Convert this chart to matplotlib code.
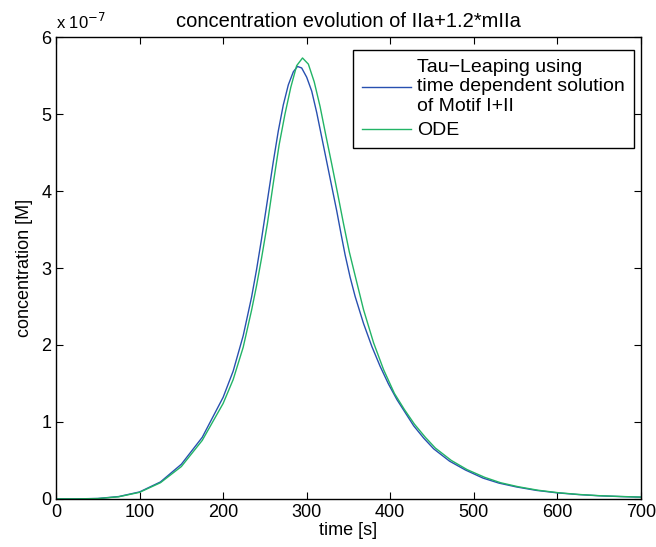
import numpy as np
import matplotlib.pyplot as plt
from matplotlib.ticker import FuncFormatter

plt.rcParams['font.family'] = ['Liberation Sans', 'DejaVu Sans']
plt.rcParams['font.size'] = 12

# values, concentration in units of 1e-7 M
scale = 1e-7
t_tau = [0, 25, 50, 75, 100, 125, 150, 175, 200, 212, 224, 234, 240, 246, 253, 260,
         266, 272, 278, 284, 289, 294, 300, 306, 312, 318, 324, 330, 336, 341, 346,
         352, 358, 368, 378, 388, 398, 408, 418, 428, 440, 452, 471, 490, 511, 530,
         551, 575, 600, 625, 650, 675, 700]
c_tau = [0, 0, 0.005, 0.03, 0.09, 0.22, 0.45, 0.8, 1.32, 1.66, 2.12, 2.62, 2.98,
         3.38, 3.88, 4.38, 4.78, 5.12, 5.38, 5.55, 5.62, 5.6, 5.48, 5.3, 5.02, 4.7,
         4.38, 4.06, 3.74, 3.45, 3.17, 2.88, 2.63, 2.28, 1.98, 1.72, 1.49, 1.29,
         1.12, 0.95, 0.79, 0.65, 0.49, 0.375, 0.27, 0.205, 0.155, 0.11, 0.078, 0.056,
         0.04, 0.03, 0.022]

t_ode = [0, 25, 50, 75, 100, 125, 150, 175, 200, 212, 224, 234, 240, 246, 253, 260,
         267, 274, 281, 288, 295, 302, 309, 316, 323, 330, 337, 344, 351, 358, 368,
         380, 392, 405, 417, 429, 442, 454, 473, 492, 513, 532, 553, 577, 601, 626,
         651, 676, 700]
c_ode = [0, 0, 0.004, 0.027, 0.085, 0.21, 0.42, 0.76, 1.24, 1.55, 1.97, 2.45, 2.77,
         3.13, 3.58, 4.1, 4.6, 5.0, 5.35, 5.63, 5.73, 5.65, 5.42, 5.1, 4.72, 4.35,
         3.97, 3.58, 3.21, 2.9, 2.46, 2.03, 1.68, 1.37, 1.16, 0.97, 0.8, 0.66, 0.5,
         0.38, 0.28, 0.21, 0.158, 0.112, 0.08, 0.057, 0.041, 0.031, 0.023]

fig = plt.figure(figsize=(6.56, 5.47), dpi=100)
ax = fig.add_axes([0.0854, 0.088, 0.8916, 0.844])

ax.plot(t_tau, np.array(c_tau) * scale, color='#2850b0', lw=1.0,
        label='Tau\u2212Leaping using\ntime dependent solution\nof Motif I+II')
ax.plot(t_ode, np.array(c_ode) * scale, color='#22b466', lw=1.0, label='ODE')

ax.set_xlim(0, 700)
ax.set_ylim(0, 6e-7)
ax.set_xticks(np.arange(0, 701, 100))
ax.set_yticks(np.arange(0, 7, 1) * scale)
ax.yaxis.set_major_formatter(FuncFormatter(lambda v, p: '%g' % round(v / scale, 6)))
ax.tick_params(direction='in', top=True, right=True, length=5, width=0.8,
               labelsize=13)
for s in ax.spines.values():
    s.set_linewidth(1.0)

ax.text(0, 1.012, 'x 10$^{-7}$', transform=ax.transAxes, ha='left', va='bottom',
        fontsize=12)
ax.set_title('concentration evolution of IIa+1.2*mIIa', fontsize=14.5, pad=7)
ax.set_xlabel('time [s]', fontsize=13, labelpad=1)
ax.set_ylabel('concentration [M]', fontsize=13, labelpad=6)

leg = ax.legend(loc='upper right', bbox_to_anchor=(0.988, 0.972), borderaxespad=0,
                fancybox=False, edgecolor='black', framealpha=1, fontsize=14,
                handlelength=2.5, handletextpad=0.35, borderpad=0.45,
                labelspacing=0.35)
leg.get_frame().set_linewidth(1.0)

fig.savefig('out.png', dpi=100)
